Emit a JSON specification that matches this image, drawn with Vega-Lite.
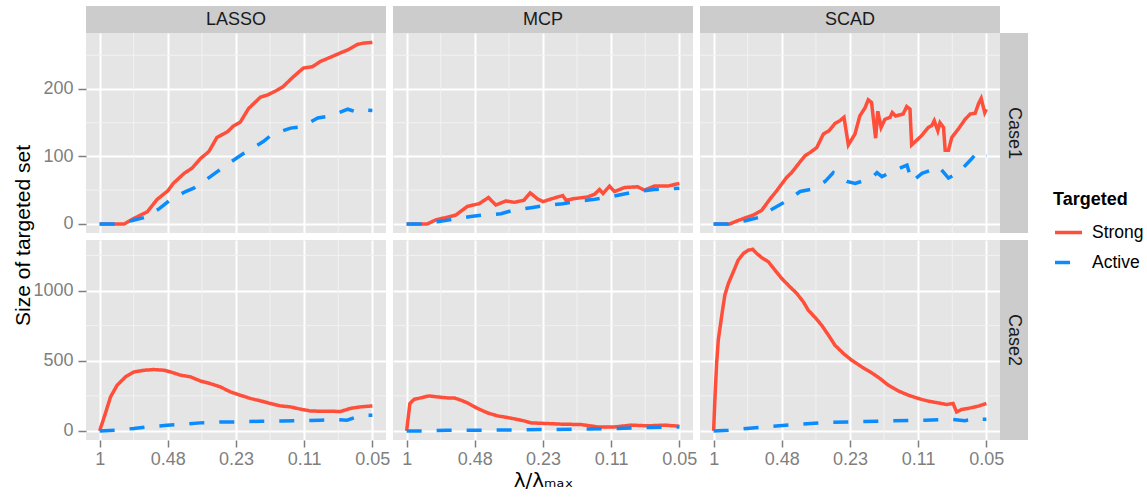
{
  "$schema": "https://vega.github.io/schema/vega-lite/v6.json",
  "autosize": {"type": "pad"},
  "padding": {"left": 12, "top": 6, "right": 5, "bottom": 5},
  "background": "#FFFFFF",
  "bounds": "flush",
  "align": "each",
  "spacing": 0,
  "columns": 6,
  "datasets": {
    "nothing": [],
    "minorx": [{"step": 12.5}, {"step": 37.5}, {"step": 62.5}, {"step": 87.5}],
    "minory1": [{"size": 50}, {"size": 150}, {"size": 250}],
    "minory2": [{"size": 250}, {"size": 750}, {"size": 1250}],
    "curves": [
      {"method": "LASSO", "case": "Case1", "targeted": "Strong", "step": 0, "size": 0},
      {"method": "LASSO", "case": "Case1", "targeted": "Strong", "step": 9, "size": 0},
      {"method": "LASSO", "case": "Case1", "targeted": "Strong", "step": 12, "size": 7},
      {"method": "LASSO", "case": "Case1", "targeted": "Strong", "step": 17.5, "size": 18},
      {"method": "LASSO", "case": "Case1", "targeted": "Strong", "step": 21, "size": 36},
      {"method": "LASSO", "case": "Case1", "targeted": "Strong", "step": 25, "size": 49},
      {"method": "LASSO", "case": "Case1", "targeted": "Strong", "step": 27, "size": 60},
      {"method": "LASSO", "case": "Case1", "targeted": "Strong", "step": 31, "size": 75},
      {"method": "LASSO", "case": "Case1", "targeted": "Strong", "step": 34, "size": 83},
      {"method": "LASSO", "case": "Case1", "targeted": "Strong", "step": 37, "size": 97},
      {"method": "LASSO", "case": "Case1", "targeted": "Strong", "step": 40, "size": 107},
      {"method": "LASSO", "case": "Case1", "targeted": "Strong", "step": 43, "size": 128},
      {"method": "LASSO", "case": "Case1", "targeted": "Strong", "step": 47, "size": 137},
      {"method": "LASSO", "case": "Case1", "targeted": "Strong", "step": 49, "size": 145},
      {"method": "LASSO", "case": "Case1", "targeted": "Strong", "step": 51.6, "size": 151},
      {"method": "LASSO", "case": "Case1", "targeted": "Strong", "step": 54.6, "size": 171},
      {"method": "LASSO", "case": "Case1", "targeted": "Strong", "step": 59, "size": 188},
      {"method": "LASSO", "case": "Case1", "targeted": "Strong", "step": 61.5, "size": 191},
      {"method": "LASSO", "case": "Case1", "targeted": "Strong", "step": 65, "size": 198},
      {"method": "LASSO", "case": "Case1", "targeted": "Strong", "step": 67.4, "size": 204},
      {"method": "LASSO", "case": "Case1", "targeted": "Strong", "step": 71, "size": 218},
      {"method": "LASSO", "case": "Case1", "targeted": "Strong", "step": 74.7, "size": 231},
      {"method": "LASSO", "case": "Case1", "targeted": "Strong", "step": 78, "size": 233},
      {"method": "LASSO", "case": "Case1", "targeted": "Strong", "step": 81, "size": 241},
      {"method": "LASSO", "case": "Case1", "targeted": "Strong", "step": 84.6, "size": 247},
      {"method": "LASSO", "case": "Case1", "targeted": "Strong", "step": 88, "size": 253},
      {"method": "LASSO", "case": "Case1", "targeted": "Strong", "step": 91, "size": 258},
      {"method": "LASSO", "case": "Case1", "targeted": "Strong", "step": 94.5, "size": 266},
      {"method": "LASSO", "case": "Case1", "targeted": "Strong", "step": 96.7, "size": 268},
      {"method": "LASSO", "case": "Case1", "targeted": "Strong", "step": 100, "size": 269},
      {"method": "LASSO", "case": "Case1", "targeted": "Active", "step": 0, "size": 0},
      {"method": "LASSO", "case": "Case1", "targeted": "Active", "step": 6, "size": 0},
      {"method": "LASSO", "case": "Case1", "targeted": "Active", "step": 12, "size": 5},
      {"method": "LASSO", "case": "Case1", "targeted": "Active", "step": 17, "size": 10},
      {"method": "LASSO", "case": "Case1", "targeted": "Active", "step": 22, "size": 23},
      {"method": "LASSO", "case": "Case1", "targeted": "Active", "step": 26, "size": 36},
      {"method": "LASSO", "case": "Case1", "targeted": "Active", "step": 31.5, "size": 48},
      {"method": "LASSO", "case": "Case1", "targeted": "Active", "step": 34.5, "size": 53},
      {"method": "LASSO", "case": "Case1", "targeted": "Active", "step": 40.6, "size": 70},
      {"method": "LASSO", "case": "Case1", "targeted": "Active", "step": 45, "size": 83},
      {"method": "LASSO", "case": "Case1", "targeted": "Active", "step": 50, "size": 97},
      {"method": "LASSO", "case": "Case1", "targeted": "Active", "step": 53, "size": 105},
      {"method": "LASSO", "case": "Case1", "targeted": "Active", "step": 60, "size": 122},
      {"method": "LASSO", "case": "Case1", "targeted": "Active", "step": 63, "size": 132},
      {"method": "LASSO", "case": "Case1", "targeted": "Active", "step": 70, "size": 142},
      {"method": "LASSO", "case": "Case1", "targeted": "Active", "step": 74, "size": 144},
      {"method": "LASSO", "case": "Case1", "targeted": "Active", "step": 80, "size": 157},
      {"method": "LASSO", "case": "Case1", "targeted": "Active", "step": 84.6, "size": 160},
      {"method": "LASSO", "case": "Case1", "targeted": "Active", "step": 91, "size": 170},
      {"method": "LASSO", "case": "Case1", "targeted": "Active", "step": 94, "size": 166},
      {"method": "LASSO", "case": "Case1", "targeted": "Active", "step": 96, "size": 169},
      {"method": "LASSO", "case": "Case1", "targeted": "Active", "step": 100, "size": 168},
      {"method": "MCP", "case": "Case1", "targeted": "Strong", "step": 0, "size": 0},
      {"method": "MCP", "case": "Case1", "targeted": "Strong", "step": 7.6, "size": 0},
      {"method": "MCP", "case": "Case1", "targeted": "Strong", "step": 10.7, "size": 6},
      {"method": "MCP", "case": "Case1", "targeted": "Strong", "step": 15, "size": 10},
      {"method": "MCP", "case": "Case1", "targeted": "Strong", "step": 18, "size": 13},
      {"method": "MCP", "case": "Case1", "targeted": "Strong", "step": 22.3, "size": 26},
      {"method": "MCP", "case": "Case1", "targeted": "Strong", "step": 26.6, "size": 30},
      {"method": "MCP", "case": "Case1", "targeted": "Strong", "step": 30, "size": 39},
      {"method": "MCP", "case": "Case1", "targeted": "Strong", "step": 32.7, "size": 28},
      {"method": "MCP", "case": "Case1", "targeted": "Strong", "step": 36.4, "size": 34},
      {"method": "MCP", "case": "Case1", "targeted": "Strong", "step": 39.5, "size": 32},
      {"method": "MCP", "case": "Case1", "targeted": "Strong", "step": 43, "size": 35},
      {"method": "MCP", "case": "Case1", "targeted": "Strong", "step": 45.3, "size": 46},
      {"method": "MCP", "case": "Case1", "targeted": "Strong", "step": 48, "size": 37},
      {"method": "MCP", "case": "Case1", "targeted": "Strong", "step": 50, "size": 33},
      {"method": "MCP", "case": "Case1", "targeted": "Strong", "step": 53, "size": 37},
      {"method": "MCP", "case": "Case1", "targeted": "Strong", "step": 57.2, "size": 42},
      {"method": "MCP", "case": "Case1", "targeted": "Strong", "step": 58.5, "size": 35},
      {"method": "MCP", "case": "Case1", "targeted": "Strong", "step": 61.5, "size": 37.5},
      {"method": "MCP", "case": "Case1", "targeted": "Strong", "step": 66.4, "size": 40},
      {"method": "MCP", "case": "Case1", "targeted": "Strong", "step": 68.9, "size": 44},
      {"method": "MCP", "case": "Case1", "targeted": "Strong", "step": 70.7, "size": 51},
      {"method": "MCP", "case": "Case1", "targeted": "Strong", "step": 72, "size": 45},
      {"method": "MCP", "case": "Case1", "targeted": "Strong", "step": 74.4, "size": 56},
      {"method": "MCP", "case": "Case1", "targeted": "Strong", "step": 76.2, "size": 48},
      {"method": "MCP", "case": "Case1", "targeted": "Strong", "step": 80, "size": 54},
      {"method": "MCP", "case": "Case1", "targeted": "Strong", "step": 84.7, "size": 55},
      {"method": "MCP", "case": "Case1", "targeted": "Strong", "step": 87.2, "size": 50},
      {"method": "MCP", "case": "Case1", "targeted": "Strong", "step": 90.8, "size": 56},
      {"method": "MCP", "case": "Case1", "targeted": "Strong", "step": 95.7, "size": 56},
      {"method": "MCP", "case": "Case1", "targeted": "Strong", "step": 100, "size": 60},
      {"method": "MCP", "case": "Case1", "targeted": "Active", "step": 0, "size": 0},
      {"method": "MCP", "case": "Case1", "targeted": "Active", "step": 5.6, "size": 0},
      {"method": "MCP", "case": "Case1", "targeted": "Active", "step": 11.8, "size": 3.5},
      {"method": "MCP", "case": "Case1", "targeted": "Active", "step": 16.7, "size": 6.5},
      {"method": "MCP", "case": "Case1", "targeted": "Active", "step": 23.5, "size": 11},
      {"method": "MCP", "case": "Case1", "targeted": "Active", "step": 27.8, "size": 13},
      {"method": "MCP", "case": "Case1", "targeted": "Active", "step": 34.6, "size": 15},
      {"method": "MCP", "case": "Case1", "targeted": "Active", "step": 38.9, "size": 20},
      {"method": "MCP", "case": "Case1", "targeted": "Active", "step": 45.6, "size": 24},
      {"method": "MCP", "case": "Case1", "targeted": "Active", "step": 50.5, "size": 27},
      {"method": "MCP", "case": "Case1", "targeted": "Active", "step": 57.2, "size": 30},
      {"method": "MCP", "case": "Case1", "targeted": "Active", "step": 61.5, "size": 33},
      {"method": "MCP", "case": "Case1", "targeted": "Active", "step": 68.2, "size": 36},
      {"method": "MCP", "case": "Case1", "targeted": "Active", "step": 73.1, "size": 39},
      {"method": "MCP", "case": "Case1", "targeted": "Active", "step": 79.3, "size": 44},
      {"method": "MCP", "case": "Case1", "targeted": "Active", "step": 84.7, "size": 48},
      {"method": "MCP", "case": "Case1", "targeted": "Active", "step": 90.8, "size": 51},
      {"method": "MCP", "case": "Case1", "targeted": "Active", "step": 95.7, "size": 52},
      {"method": "MCP", "case": "Case1", "targeted": "Active", "step": 100, "size": 53},
      {"method": "SCAD", "case": "Case1", "targeted": "Strong", "step": 0, "size": 0},
      {"method": "SCAD", "case": "Case1", "targeted": "Strong", "step": 5.9, "size": 0},
      {"method": "SCAD", "case": "Case1", "targeted": "Strong", "step": 10.9, "size": 8},
      {"method": "SCAD", "case": "Case1", "targeted": "Strong", "step": 14.5, "size": 13},
      {"method": "SCAD", "case": "Case1", "targeted": "Strong", "step": 17.6, "size": 20},
      {"method": "SCAD", "case": "Case1", "targeted": "Strong", "step": 20.7, "size": 37},
      {"method": "SCAD", "case": "Case1", "targeted": "Strong", "step": 23.1, "size": 49},
      {"method": "SCAD", "case": "Case1", "targeted": "Strong", "step": 26.8, "size": 69},
      {"method": "SCAD", "case": "Case1", "targeted": "Strong", "step": 28.6, "size": 76},
      {"method": "SCAD", "case": "Case1", "targeted": "Strong", "step": 31.1, "size": 89},
      {"method": "SCAD", "case": "Case1", "targeted": "Strong", "step": 33.5, "size": 101},
      {"method": "SCAD", "case": "Case1", "targeted": "Strong", "step": 35.4, "size": 106},
      {"method": "SCAD", "case": "Case1", "targeted": "Strong", "step": 37.8, "size": 113},
      {"method": "SCAD", "case": "Case1", "targeted": "Strong", "step": 40.2, "size": 133},
      {"method": "SCAD", "case": "Case1", "targeted": "Strong", "step": 42.3, "size": 138},
      {"method": "SCAD", "case": "Case1", "targeted": "Strong", "step": 44.5, "size": 149},
      {"method": "SCAD", "case": "Case1", "targeted": "Strong", "step": 46.3, "size": 153},
      {"method": "SCAD", "case": "Case1", "targeted": "Strong", "step": 47.8, "size": 158},
      {"method": "SCAD", "case": "Case1", "targeted": "Strong", "step": 49.4, "size": 117},
      {"method": "SCAD", "case": "Case1", "targeted": "Strong", "step": 51.8, "size": 133},
      {"method": "SCAD", "case": "Case1", "targeted": "Strong", "step": 53.6, "size": 160},
      {"method": "SCAD", "case": "Case1", "targeted": "Strong", "step": 55.5, "size": 172},
      {"method": "SCAD", "case": "Case1", "targeted": "Strong", "step": 56.7, "size": 184},
      {"method": "SCAD", "case": "Case1", "targeted": "Strong", "step": 57.9, "size": 180},
      {"method": "SCAD", "case": "Case1", "targeted": "Strong", "step": 59.4, "size": 127},
      {"method": "SCAD", "case": "Case1", "targeted": "Strong", "step": 60.2, "size": 167},
      {"method": "SCAD", "case": "Case1", "targeted": "Strong", "step": 61.4, "size": 143},
      {"method": "SCAD", "case": "Case1", "targeted": "Strong", "step": 62.8, "size": 155},
      {"method": "SCAD", "case": "Case1", "targeted": "Strong", "step": 64.7, "size": 158},
      {"method": "SCAD", "case": "Case1", "targeted": "Strong", "step": 65.5, "size": 165},
      {"method": "SCAD", "case": "Case1", "targeted": "Strong", "step": 66.7, "size": 160},
      {"method": "SCAD", "case": "Case1", "targeted": "Strong", "step": 69.5, "size": 163},
      {"method": "SCAD", "case": "Case1", "targeted": "Strong", "step": 70.8, "size": 174},
      {"method": "SCAD", "case": "Case1", "targeted": "Strong", "step": 72, "size": 170},
      {"method": "SCAD", "case": "Case1", "targeted": "Strong", "step": 72.6, "size": 117},
      {"method": "SCAD", "case": "Case1", "targeted": "Strong", "step": 76.3, "size": 131},
      {"method": "SCAD", "case": "Case1", "targeted": "Strong", "step": 78.7, "size": 143},
      {"method": "SCAD", "case": "Case1", "targeted": "Strong", "step": 80, "size": 146},
      {"method": "SCAD", "case": "Case1", "targeted": "Strong", "step": 80.9, "size": 153},
      {"method": "SCAD", "case": "Case1", "targeted": "Strong", "step": 82.2, "size": 138},
      {"method": "SCAD", "case": "Case1", "targeted": "Strong", "step": 83, "size": 150},
      {"method": "SCAD", "case": "Case1", "targeted": "Strong", "step": 84.3, "size": 143},
      {"method": "SCAD", "case": "Case1", "targeted": "Strong", "step": 84.9, "size": 109},
      {"method": "SCAD", "case": "Case1", "targeted": "Strong", "step": 86.1, "size": 109},
      {"method": "SCAD", "case": "Case1", "targeted": "Strong", "step": 87.3, "size": 128},
      {"method": "SCAD", "case": "Case1", "targeted": "Strong", "step": 89.8, "size": 141},
      {"method": "SCAD", "case": "Case1", "targeted": "Strong", "step": 92.2, "size": 155},
      {"method": "SCAD", "case": "Case1", "targeted": "Strong", "step": 94.1, "size": 163},
      {"method": "SCAD", "case": "Case1", "targeted": "Strong", "step": 95.9, "size": 164},
      {"method": "SCAD", "case": "Case1", "targeted": "Strong", "step": 97.1, "size": 178},
      {"method": "SCAD", "case": "Case1", "targeted": "Strong", "step": 98.1, "size": 186},
      {"method": "SCAD", "case": "Case1", "targeted": "Strong", "step": 99.4, "size": 165},
      {"method": "SCAD", "case": "Case1", "targeted": "Strong", "step": 100, "size": 170},
      {"method": "SCAD", "case": "Case1", "targeted": "Active", "step": 0, "size": 0},
      {"method": "SCAD", "case": "Case1", "targeted": "Active", "step": 5.4, "size": 0},
      {"method": "SCAD", "case": "Case1", "targeted": "Active", "step": 12.1, "size": 5},
      {"method": "SCAD", "case": "Case1", "targeted": "Active", "step": 17, "size": 10},
      {"method": "SCAD", "case": "Case1", "targeted": "Active", "step": 21.9, "size": 23},
      {"method": "SCAD", "case": "Case1", "targeted": "Active", "step": 26.8, "size": 34},
      {"method": "SCAD", "case": "Case1", "targeted": "Active", "step": 31.7, "size": 48},
      {"method": "SCAD", "case": "Case1", "targeted": "Active", "step": 35.4, "size": 51},
      {"method": "SCAD", "case": "Case1", "targeted": "Active", "step": 40.9, "size": 63},
      {"method": "SCAD", "case": "Case1", "targeted": "Active", "step": 43.9, "size": 76},
      {"method": "SCAD", "case": "Case1", "targeted": "Active", "step": 48.8, "size": 63},
      {"method": "SCAD", "case": "Case1", "targeted": "Active", "step": 51.9, "size": 60},
      {"method": "SCAD", "case": "Case1", "targeted": "Active", "step": 58, "size": 68},
      {"method": "SCAD", "case": "Case1", "targeted": "Active", "step": 59.9, "size": 76},
      {"method": "SCAD", "case": "Case1", "targeted": "Active", "step": 61.7, "size": 70},
      {"method": "SCAD", "case": "Case1", "targeted": "Active", "step": 66.6, "size": 80},
      {"method": "SCAD", "case": "Case1", "targeted": "Active", "step": 70.9, "size": 87},
      {"method": "SCAD", "case": "Case1", "targeted": "Active", "step": 72.7, "size": 63},
      {"method": "SCAD", "case": "Case1", "targeted": "Active", "step": 76.4, "size": 75},
      {"method": "SCAD", "case": "Case1", "targeted": "Active", "step": 80, "size": 80},
      {"method": "SCAD", "case": "Case1", "targeted": "Active", "step": 82.5, "size": 85},
      {"method": "SCAD", "case": "Case1", "targeted": "Active", "step": 86.1, "size": 68},
      {"method": "SCAD", "case": "Case1", "targeted": "Active", "step": 89.8, "size": 76},
      {"method": "SCAD", "case": "Case1", "targeted": "Active", "step": 94.7, "size": 97},
      {"method": "SCAD", "case": "Case1", "targeted": "Active", "step": 96.9, "size": 107},
      {"method": "SCAD", "case": "Case1", "targeted": "Active", "step": 98.4, "size": 102},
      {"method": "SCAD", "case": "Case1", "targeted": "Active", "step": 100, "size": 101},
      {"method": "LASSO", "case": "Case2", "targeted": "Strong", "step": 0, "size": 0},
      {"method": "LASSO", "case": "Case2", "targeted": "Strong", "step": 2.1, "size": 124},
      {"method": "LASSO", "case": "Case2", "targeted": "Strong", "step": 4, "size": 242},
      {"method": "LASSO", "case": "Case2", "targeted": "Strong", "step": 6.4, "size": 325},
      {"method": "LASSO", "case": "Case2", "targeted": "Strong", "step": 9.5, "size": 385},
      {"method": "LASSO", "case": "Case2", "targeted": "Strong", "step": 12.6, "size": 420},
      {"method": "LASSO", "case": "Case2", "targeted": "Strong", "step": 16.3, "size": 432},
      {"method": "LASSO", "case": "Case2", "targeted": "Strong", "step": 19.9, "size": 437},
      {"method": "LASSO", "case": "Case2", "targeted": "Strong", "step": 23.6, "size": 432},
      {"method": "LASSO", "case": "Case2", "targeted": "Strong", "step": 26, "size": 420},
      {"method": "LASSO", "case": "Case2", "targeted": "Strong", "step": 29.6, "size": 397},
      {"method": "LASSO", "case": "Case2", "targeted": "Strong", "step": 33.3, "size": 385},
      {"method": "LASSO", "case": "Case2", "targeted": "Strong", "step": 36.9, "size": 356},
      {"method": "LASSO", "case": "Case2", "targeted": "Strong", "step": 40.6, "size": 337},
      {"method": "LASSO", "case": "Case2", "targeted": "Strong", "step": 44.3, "size": 313},
      {"method": "LASSO", "case": "Case2", "targeted": "Strong", "step": 47.9, "size": 278},
      {"method": "LASSO", "case": "Case2", "targeted": "Strong", "step": 51.6, "size": 254},
      {"method": "LASSO", "case": "Case2", "targeted": "Strong", "step": 55.3, "size": 231},
      {"method": "LASSO", "case": "Case2", "targeted": "Strong", "step": 58.9, "size": 214},
      {"method": "LASSO", "case": "Case2", "targeted": "Strong", "step": 62.6, "size": 195},
      {"method": "LASSO", "case": "Case2", "targeted": "Strong", "step": 66.3, "size": 178},
      {"method": "LASSO", "case": "Case2", "targeted": "Strong", "step": 69.9, "size": 171},
      {"method": "LASSO", "case": "Case2", "targeted": "Strong", "step": 73.6, "size": 155},
      {"method": "LASSO", "case": "Case2", "targeted": "Strong", "step": 77.3, "size": 142},
      {"method": "LASSO", "case": "Case2", "targeted": "Strong", "step": 80.9, "size": 140},
      {"method": "LASSO", "case": "Case2", "targeted": "Strong", "step": 84.6, "size": 140},
      {"method": "LASSO", "case": "Case2", "targeted": "Strong", "step": 88.3, "size": 138},
      {"method": "LASSO", "case": "Case2", "targeted": "Strong", "step": 91.9, "size": 160},
      {"method": "LASSO", "case": "Case2", "targeted": "Strong", "step": 95.6, "size": 171},
      {"method": "LASSO", "case": "Case2", "targeted": "Strong", "step": 100, "size": 178},
      {"method": "LASSO", "case": "Case2", "targeted": "Active", "step": 0, "size": 0},
      {"method": "LASSO", "case": "Case2", "targeted": "Active", "step": 5.8, "size": 5},
      {"method": "LASSO", "case": "Case2", "targeted": "Active", "step": 12.5, "size": 17},
      {"method": "LASSO", "case": "Case2", "targeted": "Active", "step": 17.4, "size": 28},
      {"method": "LASSO", "case": "Case2", "targeted": "Active", "step": 24.7, "size": 40},
      {"method": "LASSO", "case": "Case2", "targeted": "Active", "step": 30.2, "size": 47},
      {"method": "LASSO", "case": "Case2", "targeted": "Active", "step": 36.9, "size": 57},
      {"method": "LASSO", "case": "Case2", "targeted": "Active", "step": 44.3, "size": 64},
      {"method": "LASSO", "case": "Case2", "targeted": "Active", "step": 51.6, "size": 64},
      {"method": "LASSO", "case": "Case2", "targeted": "Active", "step": 58.9, "size": 69},
      {"method": "LASSO", "case": "Case2", "targeted": "Active", "step": 66.9, "size": 71},
      {"method": "LASSO", "case": "Case2", "targeted": "Active", "step": 73.6, "size": 73},
      {"method": "LASSO", "case": "Case2", "targeted": "Active", "step": 80.9, "size": 76},
      {"method": "LASSO", "case": "Case2", "targeted": "Active", "step": 87, "size": 80},
      {"method": "LASSO", "case": "Case2", "targeted": "Active", "step": 90.7, "size": 76},
      {"method": "LASSO", "case": "Case2", "targeted": "Active", "step": 94.4, "size": 100},
      {"method": "LASSO", "case": "Case2", "targeted": "Active", "step": 98, "size": 111},
      {"method": "LASSO", "case": "Case2", "targeted": "Active", "step": 100, "size": 111},
      {"method": "MCP", "case": "Case2", "targeted": "Strong", "step": 0, "size": 0},
      {"method": "MCP", "case": "Case2", "targeted": "Strong", "step": 1.2, "size": 195},
      {"method": "MCP", "case": "Case2", "targeted": "Strong", "step": 2.7, "size": 224},
      {"method": "MCP", "case": "Case2", "targeted": "Strong", "step": 5.1, "size": 235},
      {"method": "MCP", "case": "Case2", "targeted": "Strong", "step": 8.2, "size": 249},
      {"method": "MCP", "case": "Case2", "targeted": "Strong", "step": 11.3, "size": 242},
      {"method": "MCP", "case": "Case2", "targeted": "Strong", "step": 14.9, "size": 235},
      {"method": "MCP", "case": "Case2", "targeted": "Strong", "step": 17.4, "size": 235},
      {"method": "MCP", "case": "Case2", "targeted": "Strong", "step": 19.9, "size": 219},
      {"method": "MCP", "case": "Case2", "targeted": "Strong", "step": 22.3, "size": 199},
      {"method": "MCP", "case": "Case2", "targeted": "Strong", "step": 26, "size": 160},
      {"method": "MCP", "case": "Case2", "targeted": "Strong", "step": 29.7, "size": 128},
      {"method": "MCP", "case": "Case2", "targeted": "Strong", "step": 33.3, "size": 107},
      {"method": "MCP", "case": "Case2", "targeted": "Strong", "step": 37, "size": 95},
      {"method": "MCP", "case": "Case2", "targeted": "Strong", "step": 40.7, "size": 81},
      {"method": "MCP", "case": "Case2", "targeted": "Strong", "step": 43.1, "size": 71},
      {"method": "MCP", "case": "Case2", "targeted": "Strong", "step": 45.6, "size": 57},
      {"method": "MCP", "case": "Case2", "targeted": "Strong", "step": 50.5, "size": 53},
      {"method": "MCP", "case": "Case2", "targeted": "Strong", "step": 56.6, "size": 48},
      {"method": "MCP", "case": "Case2", "targeted": "Strong", "step": 64, "size": 45},
      {"method": "MCP", "case": "Case2", "targeted": "Strong", "step": 70.1, "size": 28},
      {"method": "MCP", "case": "Case2", "targeted": "Strong", "step": 76.2, "size": 28},
      {"method": "MCP", "case": "Case2", "targeted": "Strong", "step": 82.4, "size": 41},
      {"method": "MCP", "case": "Case2", "targeted": "Strong", "step": 88.5, "size": 36},
      {"method": "MCP", "case": "Case2", "targeted": "Strong", "step": 94.6, "size": 41},
      {"method": "MCP", "case": "Case2", "targeted": "Strong", "step": 100, "size": 33},
      {"method": "MCP", "case": "Case2", "targeted": "Active", "step": 0, "size": 0},
      {"method": "MCP", "case": "Case2", "targeted": "Active", "step": 7, "size": 0},
      {"method": "MCP", "case": "Case2", "targeted": "Active", "step": 14.9, "size": 5},
      {"method": "MCP", "case": "Case2", "targeted": "Active", "step": 27.1, "size": 5},
      {"method": "MCP", "case": "Case2", "targeted": "Active", "step": 39.3, "size": 7},
      {"method": "MCP", "case": "Case2", "targeted": "Active", "step": 51.5, "size": 10},
      {"method": "MCP", "case": "Case2", "targeted": "Active", "step": 63.7, "size": 12},
      {"method": "MCP", "case": "Case2", "targeted": "Active", "step": 76, "size": 17},
      {"method": "MCP", "case": "Case2", "targeted": "Active", "step": 88.2, "size": 24},
      {"method": "MCP", "case": "Case2", "targeted": "Active", "step": 100, "size": 28},
      {"method": "SCAD", "case": "Case2", "targeted": "Strong", "step": 0, "size": 0},
      {"method": "SCAD", "case": "Case2", "targeted": "Strong", "step": 0.5, "size": 242},
      {"method": "SCAD", "case": "Case2", "targeted": "Strong", "step": 1.1, "size": 480},
      {"method": "SCAD", "case": "Case2", "targeted": "Strong", "step": 1.7, "size": 646},
      {"method": "SCAD", "case": "Case2", "targeted": "Strong", "step": 2.9, "size": 812},
      {"method": "SCAD", "case": "Case2", "targeted": "Strong", "step": 4.1, "size": 967},
      {"method": "SCAD", "case": "Case2", "targeted": "Strong", "step": 5.4, "size": 1050},
      {"method": "SCAD", "case": "Case2", "targeted": "Strong", "step": 7.2, "size": 1132},
      {"method": "SCAD", "case": "Case2", "targeted": "Strong", "step": 9, "size": 1216},
      {"method": "SCAD", "case": "Case2", "targeted": "Strong", "step": 10.9, "size": 1264},
      {"method": "SCAD", "case": "Case2", "targeted": "Strong", "step": 12.7, "size": 1287},
      {"method": "SCAD", "case": "Case2", "targeted": "Strong", "step": 14.3, "size": 1294},
      {"method": "SCAD", "case": "Case2", "targeted": "Strong", "step": 15.8, "size": 1264},
      {"method": "SCAD", "case": "Case2", "targeted": "Strong", "step": 17.6, "size": 1235},
      {"method": "SCAD", "case": "Case2", "targeted": "Strong", "step": 20.1, "size": 1204},
      {"method": "SCAD", "case": "Case2", "targeted": "Strong", "step": 22.5, "size": 1145},
      {"method": "SCAD", "case": "Case2", "targeted": "Strong", "step": 25, "size": 1085},
      {"method": "SCAD", "case": "Case2", "targeted": "Strong", "step": 28, "size": 1026},
      {"method": "SCAD", "case": "Case2", "targeted": "Strong", "step": 30.5, "size": 979},
      {"method": "SCAD", "case": "Case2", "targeted": "Strong", "step": 32.9, "size": 919},
      {"method": "SCAD", "case": "Case2", "targeted": "Strong", "step": 34.7, "size": 860},
      {"method": "SCAD", "case": "Case2", "targeted": "Strong", "step": 37.2, "size": 808},
      {"method": "SCAD", "case": "Case2", "targeted": "Strong", "step": 39.6, "size": 753},
      {"method": "SCAD", "case": "Case2", "targeted": "Strong", "step": 42.1, "size": 682},
      {"method": "SCAD", "case": "Case2", "targeted": "Strong", "step": 44.5, "size": 610},
      {"method": "SCAD", "case": "Case2", "targeted": "Strong", "step": 47.6, "size": 551},
      {"method": "SCAD", "case": "Case2", "targeted": "Strong", "step": 50.6, "size": 504},
      {"method": "SCAD", "case": "Case2", "targeted": "Strong", "step": 54.3, "size": 456},
      {"method": "SCAD", "case": "Case2", "targeted": "Strong", "step": 58, "size": 413},
      {"method": "SCAD", "case": "Case2", "targeted": "Strong", "step": 61, "size": 373},
      {"method": "SCAD", "case": "Case2", "targeted": "Strong", "step": 64, "size": 326},
      {"method": "SCAD", "case": "Case2", "targeted": "Strong", "step": 67.7, "size": 285},
      {"method": "SCAD", "case": "Case2", "targeted": "Strong", "step": 71.4, "size": 254},
      {"method": "SCAD", "case": "Case2", "targeted": "Strong", "step": 75, "size": 231},
      {"method": "SCAD", "case": "Case2", "targeted": "Strong", "step": 78.7, "size": 212},
      {"method": "SCAD", "case": "Case2", "targeted": "Strong", "step": 82.4, "size": 199},
      {"method": "SCAD", "case": "Case2", "targeted": "Strong", "step": 85.4, "size": 188},
      {"method": "SCAD", "case": "Case2", "targeted": "Strong", "step": 87.8, "size": 195},
      {"method": "SCAD", "case": "Case2", "targeted": "Strong", "step": 89.1, "size": 135},
      {"method": "SCAD", "case": "Case2", "targeted": "Strong", "step": 90.9, "size": 152},
      {"method": "SCAD", "case": "Case2", "targeted": "Strong", "step": 93.3, "size": 160},
      {"method": "SCAD", "case": "Case2", "targeted": "Strong", "step": 97, "size": 176},
      {"method": "SCAD", "case": "Case2", "targeted": "Strong", "step": 100, "size": 195},
      {"method": "SCAD", "case": "Case2", "targeted": "Active", "step": 0, "size": 0},
      {"method": "SCAD", "case": "Case2", "targeted": "Active", "step": 5.4, "size": 5},
      {"method": "SCAD", "case": "Case2", "targeted": "Active", "step": 16.4, "size": 24},
      {"method": "SCAD", "case": "Case2", "targeted": "Active", "step": 28.6, "size": 43},
      {"method": "SCAD", "case": "Case2", "targeted": "Active", "step": 40.8, "size": 59},
      {"method": "SCAD", "case": "Case2", "targeted": "Active", "step": 53, "size": 66},
      {"method": "SCAD", "case": "Case2", "targeted": "Active", "step": 65.2, "size": 71},
      {"method": "SCAD", "case": "Case2", "targeted": "Active", "step": 77.4, "size": 76},
      {"method": "SCAD", "case": "Case2", "targeted": "Active", "step": 87.2, "size": 83},
      {"method": "SCAD", "case": "Case2", "targeted": "Active", "step": 92.1, "size": 73},
      {"method": "SCAD", "case": "Case2", "targeted": "Active", "step": 97.6, "size": 90},
      {"method": "SCAD", "case": "Case2", "targeted": "Active", "step": 98.2, "size": 83},
      {"method": "SCAD", "case": "Case2", "targeted": "Active", "step": 100, "size": 83}
    ]
  },
  "concat": [
    {"width": 300, "height": 27, "view": {"fill": "#CCCCCC", "stroke": null}, "data": {"values": [{"label": "LASSO"}]}, "mark": {"type": "text", "font": "Liberation Sans", "fontSize": 18, "color": "#1A1A1A", "baseline": "middle", "align": "center"}, "encoding": {"text": {"field": "label"}}},
    {"width": 6.5, "height": 27, "data": {"name": "nothing"}, "mark": {"type": "point", "opacity": 0}},
    {"width": 300, "height": 27, "view": {"fill": "#CCCCCC", "stroke": null}, "data": {"values": [{"label": "MCP"}]}, "mark": {"type": "text", "font": "Liberation Sans", "fontSize": 18, "color": "#1A1A1A", "baseline": "middle", "align": "center"}, "encoding": {"text": {"field": "label"}}},
    {"width": 6.5, "height": 27, "data": {"name": "nothing"}, "mark": {"type": "point", "opacity": 0}},
    {"width": 300, "height": 27, "view": {"fill": "#CCCCCC", "stroke": null}, "data": {"values": [{"label": "SCAD"}]}, "mark": {"type": "text", "font": "Liberation Sans", "fontSize": 18, "color": "#1A1A1A", "baseline": "middle", "align": "center"}, "encoding": {"text": {"field": "label"}}},
    {"width": 28, "height": 27, "data": {"name": "nothing"}, "mark": {"type": "point", "opacity": 0}},

    {
      "width": 300, "height": 200, "view": {"fill": "#E5E5E5", "stroke": null},
      "layer": [
        {"data": {"name": "minorx"}, "mark": {"type": "rule", "color": "#F2F2F2", "strokeWidth": 1}, "encoding": {"x": {"field": "step", "type": "quantitative", "scale": {"domain": [-5, 105], "nice": false, "zero": false}, "axis": {"values": [0, 25, 50, 75, 100], "labels": false, "ticks": false, "title": null}}}},
        {"data": {"name": "minory1"}, "mark": {"type": "rule", "color": "#F2F2F2", "strokeWidth": 1}, "encoding": {"y": {"field": "size", "type": "quantitative", "scale": {"domain": [-13.5, 283], "nice": false, "zero": false}, "axis": {"values": [0, 100, 200], "title": "Size of targeted set", "titleX": -53, "titleY": 202, "titleAngle": -90, "titleAlign": "center", "titleBaseline": "bottom", "titleFont": "Liberation Sans", "titleFontSize": 21, "titleFontWeight": "normal", "titleColor": "#000000"}}}},
        {"data": {"name": "curves"}, "transform": [{"filter": "datum.method == 'LASSO' && datum.case == 'Case1' && datum.targeted == 'Strong'"}], "mark": {"type": "line", "strokeWidth": 3.5},
         "encoding": {
           "x": {"field": "step", "type": "quantitative", "scale": {"domain": [-5, 105], "nice": false, "zero": false}, "axis": {"values": [0, 25, 50, 75, 100], "labels": false, "ticks": false, "title": null}},
           "y": {"field": "size", "type": "quantitative", "scale": {"domain": [-13.5, 283], "nice": false, "zero": false}, "axis": {"values": [0, 100, 200], "title": "Size of targeted set", "titleX": -53, "titleY": 202, "titleAngle": -90, "titleAlign": "center", "titleBaseline": "bottom", "titleFont": "Liberation Sans", "titleFontSize": 21, "titleFontWeight": "normal", "titleColor": "#000000"}},
           "color": {"field": "targeted", "type": "nominal", "scale": {"domain": ["Strong", "Active"], "range": ["#FF4E3A", "#0A8CFF"]}, "legend": {"title": "Targeted", "orient": "none", "legendX": 967, "legendY": 185}},
           "strokeDash": {"field": "targeted", "type": "nominal", "scale": {"domain": ["Strong", "Active"], "range": [[1, 0], [15, 15]]}, "legend": {"title": "Targeted", "orient": "none", "legendX": 967, "legendY": 185}}
         }},
        {"data": {"name": "curves"}, "transform": [{"filter": "datum.method == 'LASSO' && datum.case == 'Case1' && datum.targeted == 'Active'"}], "mark": {"type": "line", "strokeWidth": 3.5},
         "encoding": {
           "x": {"field": "step", "type": "quantitative", "scale": {"domain": [-5, 105], "nice": false, "zero": false}, "axis": {"values": [0, 25, 50, 75, 100], "labels": false, "ticks": false, "title": null}},
           "y": {"field": "size", "type": "quantitative", "scale": {"domain": [-13.5, 283], "nice": false, "zero": false}, "axis": {"values": [0, 100, 200], "title": "Size of targeted set", "titleX": -53, "titleY": 202, "titleAngle": -90, "titleAlign": "center", "titleBaseline": "bottom", "titleFont": "Liberation Sans", "titleFontSize": 21, "titleFontWeight": "normal", "titleColor": "#000000"}},
           "color": {"field": "targeted", "type": "nominal", "scale": {"domain": ["Strong", "Active"], "range": ["#FF4E3A", "#0A8CFF"]}, "legend": {"title": "Targeted", "orient": "none", "legendX": 967, "legendY": 185}},
           "strokeDash": {"field": "targeted", "type": "nominal", "scale": {"domain": ["Strong", "Active"], "range": [[1, 0], [15, 15]]}, "legend": {"title": "Targeted", "orient": "none", "legendX": 967, "legendY": 185}}
         }}
      ]
    },
    {"width": 6.5, "height": 200, "data": {"name": "nothing"}, "mark": {"type": "point", "opacity": 0}},
    {
      "width": 300, "height": 200, "view": {"fill": "#E5E5E5", "stroke": null},
      "layer": [
        {"data": {"name": "minorx"}, "mark": {"type": "rule", "color": "#F2F2F2", "strokeWidth": 1}, "encoding": {"x": {"field": "step", "type": "quantitative", "scale": {"domain": [-5, 105], "nice": false, "zero": false}, "axis": {"values": [0, 25, 50, 75, 100], "labels": false, "ticks": false, "title": null}}}},
        {"data": {"name": "minory1"}, "mark": {"type": "rule", "color": "#F2F2F2", "strokeWidth": 1}, "encoding": {"y": {"field": "size", "type": "quantitative", "scale": {"domain": [-13.5, 283], "nice": false, "zero": false}, "axis": {"values": [0, 100, 200], "labels": false, "ticks": false, "title": null}}}},
        {"data": {"name": "curves"}, "transform": [{"filter": "datum.method == 'MCP' && datum.case == 'Case1' && datum.targeted == 'Strong'"}], "mark": {"type": "line", "strokeWidth": 3.5},
         "encoding": {
           "x": {"field": "step", "type": "quantitative", "scale": {"domain": [-5, 105], "nice": false, "zero": false}, "axis": {"values": [0, 25, 50, 75, 100], "labels": false, "ticks": false, "title": null}},
           "y": {"field": "size", "type": "quantitative", "scale": {"domain": [-13.5, 283], "nice": false, "zero": false}, "axis": {"values": [0, 100, 200], "labels": false, "ticks": false, "title": null}},
           "color": {"field": "targeted", "type": "nominal", "scale": {"domain": ["Strong", "Active"], "range": ["#FF4E3A", "#0A8CFF"]}, "legend": {"title": "Targeted", "orient": "none", "legendX": 967, "legendY": 185}},
           "strokeDash": {"field": "targeted", "type": "nominal", "scale": {"domain": ["Strong", "Active"], "range": [[1, 0], [15, 15]]}, "legend": {"title": "Targeted", "orient": "none", "legendX": 967, "legendY": 185}}
         }},
        {"data": {"name": "curves"}, "transform": [{"filter": "datum.method == 'MCP' && datum.case == 'Case1' && datum.targeted == 'Active'"}], "mark": {"type": "line", "strokeWidth": 3.5},
         "encoding": {
           "x": {"field": "step", "type": "quantitative", "scale": {"domain": [-5, 105], "nice": false, "zero": false}, "axis": {"values": [0, 25, 50, 75, 100], "labels": false, "ticks": false, "title": null}},
           "y": {"field": "size", "type": "quantitative", "scale": {"domain": [-13.5, 283], "nice": false, "zero": false}, "axis": {"values": [0, 100, 200], "labels": false, "ticks": false, "title": null}},
           "color": {"field": "targeted", "type": "nominal", "scale": {"domain": ["Strong", "Active"], "range": ["#FF4E3A", "#0A8CFF"]}, "legend": {"title": "Targeted", "orient": "none", "legendX": 967, "legendY": 185}},
           "strokeDash": {"field": "targeted", "type": "nominal", "scale": {"domain": ["Strong", "Active"], "range": [[1, 0], [15, 15]]}, "legend": {"title": "Targeted", "orient": "none", "legendX": 967, "legendY": 185}}
         }}
      ]
    },
    {"width": 6.5, "height": 200, "data": {"name": "nothing"}, "mark": {"type": "point", "opacity": 0}},
    {
      "width": 300, "height": 200, "view": {"fill": "#E5E5E5", "stroke": null},
      "layer": [
        {"data": {"name": "minorx"}, "mark": {"type": "rule", "color": "#F2F2F2", "strokeWidth": 1}, "encoding": {"x": {"field": "step", "type": "quantitative", "scale": {"domain": [-5, 105], "nice": false, "zero": false}, "axis": {"values": [0, 25, 50, 75, 100], "labels": false, "ticks": false, "title": null}}}},
        {"data": {"name": "minory1"}, "mark": {"type": "rule", "color": "#F2F2F2", "strokeWidth": 1}, "encoding": {"y": {"field": "size", "type": "quantitative", "scale": {"domain": [-13.5, 283], "nice": false, "zero": false}, "axis": {"values": [0, 100, 200], "labels": false, "ticks": false, "title": null}}}},
        {"data": {"name": "curves"}, "transform": [{"filter": "datum.method == 'SCAD' && datum.case == 'Case1' && datum.targeted == 'Strong'"}], "mark": {"type": "line", "strokeWidth": 3.5},
         "encoding": {
           "x": {"field": "step", "type": "quantitative", "scale": {"domain": [-5, 105], "nice": false, "zero": false}, "axis": {"values": [0, 25, 50, 75, 100], "labels": false, "ticks": false, "title": null}},
           "y": {"field": "size", "type": "quantitative", "scale": {"domain": [-13.5, 283], "nice": false, "zero": false}, "axis": {"values": [0, 100, 200], "labels": false, "ticks": false, "title": null}},
           "color": {"field": "targeted", "type": "nominal", "scale": {"domain": ["Strong", "Active"], "range": ["#FF4E3A", "#0A8CFF"]}, "legend": {"title": "Targeted", "orient": "none", "legendX": 967, "legendY": 185}},
           "strokeDash": {"field": "targeted", "type": "nominal", "scale": {"domain": ["Strong", "Active"], "range": [[1, 0], [15, 15]]}, "legend": {"title": "Targeted", "orient": "none", "legendX": 967, "legendY": 185}}
         }},
        {"data": {"name": "curves"}, "transform": [{"filter": "datum.method == 'SCAD' && datum.case == 'Case1' && datum.targeted == 'Active'"}], "mark": {"type": "line", "strokeWidth": 3.5},
         "encoding": {
           "x": {"field": "step", "type": "quantitative", "scale": {"domain": [-5, 105], "nice": false, "zero": false}, "axis": {"values": [0, 25, 50, 75, 100], "labels": false, "ticks": false, "title": null}},
           "y": {"field": "size", "type": "quantitative", "scale": {"domain": [-13.5, 283], "nice": false, "zero": false}, "axis": {"values": [0, 100, 200], "labels": false, "ticks": false, "title": null}},
           "color": {"field": "targeted", "type": "nominal", "scale": {"domain": ["Strong", "Active"], "range": ["#FF4E3A", "#0A8CFF"]}, "legend": {"title": "Targeted", "orient": "none", "legendX": 967, "legendY": 185}},
           "strokeDash": {"field": "targeted", "type": "nominal", "scale": {"domain": ["Strong", "Active"], "range": [[1, 0], [15, 15]]}, "legend": {"title": "Targeted", "orient": "none", "legendX": 967, "legendY": 185}}
         }}
      ]
    },
    {"width": 28, "height": 200, "view": {"fill": "#CCCCCC", "stroke": null}, "data": {"values": [{"label": "Case1"}]}, "mark": {"type": "text", "font": "Liberation Sans", "fontSize": 18, "color": "#1A1A1A", "angle": 90, "baseline": "middle", "align": "center"}, "encoding": {"text": {"field": "label"}}},

    {"width": 300, "height": 6.7, "data": {"name": "nothing"}, "mark": {"type": "point", "opacity": 0}},
    {"width": 6.5, "height": 6.7, "data": {"name": "nothing"}, "mark": {"type": "point", "opacity": 0}},
    {"width": 300, "height": 6.7, "data": {"name": "nothing"}, "mark": {"type": "point", "opacity": 0}},
    {"width": 6.5, "height": 6.7, "data": {"name": "nothing"}, "mark": {"type": "point", "opacity": 0}},
    {"width": 300, "height": 6.7, "data": {"name": "nothing"}, "mark": {"type": "point", "opacity": 0}},
    {"width": 28, "height": 6.7, "data": {"name": "nothing"}, "mark": {"type": "point", "opacity": 0}},

    {
      "width": 300, "height": 200, "view": {"fill": "#E5E5E5", "stroke": null},
      "layer": [
        {"data": {"name": "minorx"}, "mark": {"type": "rule", "color": "#F2F2F2", "strokeWidth": 1}, "encoding": {"x": {"field": "step", "type": "quantitative", "scale": {"domain": [-5, 105], "nice": false, "zero": false}, "axis": {"values": [0, 25, 50, 75, 100], "labelExpr": "datum.value == 0 ? '1' : datum.value == 25 ? '0.48' : datum.value == 50 ? '0.23' : datum.value == 75 ? '0.11' : '0.05'", "title": null}}}},
        {"data": {"name": "minory2"}, "mark": {"type": "rule", "color": "#F2F2F2", "strokeWidth": 1}, "encoding": {"y": {"field": "size", "type": "quantitative", "scale": {"domain": [-65, 1360], "nice": false, "zero": false}, "axis": {"values": [0, 500, 1000], "format": "d", "title": null}}}},
        {"data": {"name": "curves"}, "transform": [{"filter": "datum.method == 'LASSO' && datum.case == 'Case2' && datum.targeted == 'Strong'"}], "mark": {"type": "line", "strokeWidth": 3.5},
         "encoding": {
           "x": {"field": "step", "type": "quantitative", "scale": {"domain": [-5, 105], "nice": false, "zero": false}, "axis": {"values": [0, 25, 50, 75, 100], "labelExpr": "datum.value == 0 ? '1' : datum.value == 25 ? '0.48' : datum.value == 50 ? '0.23' : datum.value == 75 ? '0.11' : '0.05'", "title": null}},
           "y": {"field": "size", "type": "quantitative", "scale": {"domain": [-65, 1360], "nice": false, "zero": false}, "axis": {"values": [0, 500, 1000], "format": "d", "title": null}},
           "color": {"field": "targeted", "type": "nominal", "scale": {"domain": ["Strong", "Active"], "range": ["#FF4E3A", "#0A8CFF"]}, "legend": {"title": "Targeted", "orient": "none", "legendX": 967, "legendY": 185}},
           "strokeDash": {"field": "targeted", "type": "nominal", "scale": {"domain": ["Strong", "Active"], "range": [[1, 0], [15, 15]]}, "legend": {"title": "Targeted", "orient": "none", "legendX": 967, "legendY": 185}}
         }},
        {"data": {"name": "curves"}, "transform": [{"filter": "datum.method == 'LASSO' && datum.case == 'Case2' && datum.targeted == 'Active'"}], "mark": {"type": "line", "strokeWidth": 3.5},
         "encoding": {
           "x": {"field": "step", "type": "quantitative", "scale": {"domain": [-5, 105], "nice": false, "zero": false}, "axis": {"values": [0, 25, 50, 75, 100], "labelExpr": "datum.value == 0 ? '1' : datum.value == 25 ? '0.48' : datum.value == 50 ? '0.23' : datum.value == 75 ? '0.11' : '0.05'", "title": null}},
           "y": {"field": "size", "type": "quantitative", "scale": {"domain": [-65, 1360], "nice": false, "zero": false}, "axis": {"values": [0, 500, 1000], "format": "d", "title": null}},
           "color": {"field": "targeted", "type": "nominal", "scale": {"domain": ["Strong", "Active"], "range": ["#FF4E3A", "#0A8CFF"]}, "legend": {"title": "Targeted", "orient": "none", "legendX": 967, "legendY": 185}},
           "strokeDash": {"field": "targeted", "type": "nominal", "scale": {"domain": ["Strong", "Active"], "range": [[1, 0], [15, 15]]}, "legend": {"title": "Targeted", "orient": "none", "legendX": 967, "legendY": 185}}
         }}
      ]
    },
    {"width": 6.5, "height": 200, "data": {"name": "nothing"}, "mark": {"type": "point", "opacity": 0}},
    {
      "width": 300, "height": 200, "view": {"fill": "#E5E5E5", "stroke": null},
      "layer": [
        {"data": {"name": "minorx"}, "mark": {"type": "rule", "color": "#F2F2F2", "strokeWidth": 1}, "encoding": {"x": {"field": "step", "type": "quantitative", "scale": {"domain": [-5, 105], "nice": false, "zero": false}, "axis": {"values": [0, 25, 50, 75, 100], "labelExpr": "datum.value == 0 ? '1' : datum.value == 25 ? '0.48' : datum.value == 50 ? '0.23' : datum.value == 75 ? '0.11' : '0.05'", "title": "λ/λₘₐₓ", "titleFont": "DejaVu Sans", "titleFontSize": 20, "titleFontWeight": "normal", "titleColor": "#000000", "titlePadding": 2}}}},
        {"data": {"name": "minory2"}, "mark": {"type": "rule", "color": "#F2F2F2", "strokeWidth": 1}, "encoding": {"y": {"field": "size", "type": "quantitative", "scale": {"domain": [-65, 1360], "nice": false, "zero": false}, "axis": {"values": [0, 500, 1000], "labels": false, "ticks": false, "title": null}}}},
        {"data": {"name": "curves"}, "transform": [{"filter": "datum.method == 'MCP' && datum.case == 'Case2' && datum.targeted == 'Strong'"}], "mark": {"type": "line", "strokeWidth": 3.5},
         "encoding": {
           "x": {"field": "step", "type": "quantitative", "scale": {"domain": [-5, 105], "nice": false, "zero": false}, "axis": {"values": [0, 25, 50, 75, 100], "labelExpr": "datum.value == 0 ? '1' : datum.value == 25 ? '0.48' : datum.value == 50 ? '0.23' : datum.value == 75 ? '0.11' : '0.05'", "title": "λ/λₘₐₓ", "titleFont": "DejaVu Sans", "titleFontSize": 20, "titleFontWeight": "normal", "titleColor": "#000000", "titlePadding": 2}},
           "y": {"field": "size", "type": "quantitative", "scale": {"domain": [-65, 1360], "nice": false, "zero": false}, "axis": {"values": [0, 500, 1000], "labels": false, "ticks": false, "title": null}},
           "color": {"field": "targeted", "type": "nominal", "scale": {"domain": ["Strong", "Active"], "range": ["#FF4E3A", "#0A8CFF"]}, "legend": {"title": "Targeted", "orient": "none", "legendX": 967, "legendY": 185}},
           "strokeDash": {"field": "targeted", "type": "nominal", "scale": {"domain": ["Strong", "Active"], "range": [[1, 0], [15, 15]]}, "legend": {"title": "Targeted", "orient": "none", "legendX": 967, "legendY": 185}}
         }},
        {"data": {"name": "curves"}, "transform": [{"filter": "datum.method == 'MCP' && datum.case == 'Case2' && datum.targeted == 'Active'"}], "mark": {"type": "line", "strokeWidth": 3.5},
         "encoding": {
           "x": {"field": "step", "type": "quantitative", "scale": {"domain": [-5, 105], "nice": false, "zero": false}, "axis": {"values": [0, 25, 50, 75, 100], "labelExpr": "datum.value == 0 ? '1' : datum.value == 25 ? '0.48' : datum.value == 50 ? '0.23' : datum.value == 75 ? '0.11' : '0.05'", "title": "λ/λₘₐₓ", "titleFont": "DejaVu Sans", "titleFontSize": 20, "titleFontWeight": "normal", "titleColor": "#000000", "titlePadding": 2}},
           "y": {"field": "size", "type": "quantitative", "scale": {"domain": [-65, 1360], "nice": false, "zero": false}, "axis": {"values": [0, 500, 1000], "labels": false, "ticks": false, "title": null}},
           "color": {"field": "targeted", "type": "nominal", "scale": {"domain": ["Strong", "Active"], "range": ["#FF4E3A", "#0A8CFF"]}, "legend": {"title": "Targeted", "orient": "none", "legendX": 967, "legendY": 185}},
           "strokeDash": {"field": "targeted", "type": "nominal", "scale": {"domain": ["Strong", "Active"], "range": [[1, 0], [15, 15]]}, "legend": {"title": "Targeted", "orient": "none", "legendX": 967, "legendY": 185}}
         }}
      ]
    },
    {"width": 6.5, "height": 200, "data": {"name": "nothing"}, "mark": {"type": "point", "opacity": 0}},
    {
      "width": 300, "height": 200, "view": {"fill": "#E5E5E5", "stroke": null},
      "layer": [
        {"data": {"name": "minorx"}, "mark": {"type": "rule", "color": "#F2F2F2", "strokeWidth": 1}, "encoding": {"x": {"field": "step", "type": "quantitative", "scale": {"domain": [-5, 105], "nice": false, "zero": false}, "axis": {"values": [0, 25, 50, 75, 100], "labelExpr": "datum.value == 0 ? '1' : datum.value == 25 ? '0.48' : datum.value == 50 ? '0.23' : datum.value == 75 ? '0.11' : '0.05'", "title": null}}}},
        {"data": {"name": "minory2"}, "mark": {"type": "rule", "color": "#F2F2F2", "strokeWidth": 1}, "encoding": {"y": {"field": "size", "type": "quantitative", "scale": {"domain": [-65, 1360], "nice": false, "zero": false}, "axis": {"values": [0, 500, 1000], "labels": false, "ticks": false, "title": null}}}},
        {"data": {"name": "curves"}, "transform": [{"filter": "datum.method == 'SCAD' && datum.case == 'Case2' && datum.targeted == 'Strong'"}], "mark": {"type": "line", "strokeWidth": 3.5},
         "encoding": {
           "x": {"field": "step", "type": "quantitative", "scale": {"domain": [-5, 105], "nice": false, "zero": false}, "axis": {"values": [0, 25, 50, 75, 100], "labelExpr": "datum.value == 0 ? '1' : datum.value == 25 ? '0.48' : datum.value == 50 ? '0.23' : datum.value == 75 ? '0.11' : '0.05'", "title": null}},
           "y": {"field": "size", "type": "quantitative", "scale": {"domain": [-65, 1360], "nice": false, "zero": false}, "axis": {"values": [0, 500, 1000], "labels": false, "ticks": false, "title": null}},
           "color": {"field": "targeted", "type": "nominal", "scale": {"domain": ["Strong", "Active"], "range": ["#FF4E3A", "#0A8CFF"]}, "legend": {"title": "Targeted", "orient": "none", "legendX": 967, "legendY": 185}},
           "strokeDash": {"field": "targeted", "type": "nominal", "scale": {"domain": ["Strong", "Active"], "range": [[1, 0], [15, 15]]}, "legend": {"title": "Targeted", "orient": "none", "legendX": 967, "legendY": 185}}
         }},
        {"data": {"name": "curves"}, "transform": [{"filter": "datum.method == 'SCAD' && datum.case == 'Case2' && datum.targeted == 'Active'"}], "mark": {"type": "line", "strokeWidth": 3.5},
         "encoding": {
           "x": {"field": "step", "type": "quantitative", "scale": {"domain": [-5, 105], "nice": false, "zero": false}, "axis": {"values": [0, 25, 50, 75, 100], "labelExpr": "datum.value == 0 ? '1' : datum.value == 25 ? '0.48' : datum.value == 50 ? '0.23' : datum.value == 75 ? '0.11' : '0.05'", "title": null}},
           "y": {"field": "size", "type": "quantitative", "scale": {"domain": [-65, 1360], "nice": false, "zero": false}, "axis": {"values": [0, 500, 1000], "labels": false, "ticks": false, "title": null}},
           "color": {"field": "targeted", "type": "nominal", "scale": {"domain": ["Strong", "Active"], "range": ["#FF4E3A", "#0A8CFF"]}, "legend": {"title": "Targeted", "orient": "none", "legendX": 967, "legendY": 185}},
           "strokeDash": {"field": "targeted", "type": "nominal", "scale": {"domain": ["Strong", "Active"], "range": [[1, 0], [15, 15]]}, "legend": {"title": "Targeted", "orient": "none", "legendX": 967, "legendY": 185}}
         }}
      ]
    },
    {"width": 28, "height": 200, "view": {"fill": "#CCCCCC", "stroke": null}, "data": {"values": [{"label": "Case2"}]}, "mark": {"type": "text", "font": "Liberation Sans", "fontSize": 18, "color": "#1A1A1A", "angle": 90, "baseline": "middle", "align": "center"}, "encoding": {"text": {"field": "label"}}}
  ],
  "config": {
    "view": {"stroke": null},
    "font": "Liberation Sans",
    "axis": {"domain": false, "grid": true, "gridColor": "#FFFFFF", "gridWidth": 2, "labelColor": "#7F7F7F", "labelFont": "Liberation Sans", "labelFontSize": 18, "tickColor": "#7F7F7F", "tickWidth": 1.5, "labelFlush": false, "labelOverlap": false},
    "axisX": {"tickSize": 7, "labelPadding": 3},
    "axisY": {"tickSize": 8, "labelPadding": 5},
    "legend": {"symbolType": "stroke", "symbolSize": 729, "symbolStrokeWidth": 3.5, "titleFont": "Liberation Sans", "titleFontSize": 18, "titleFontWeight": "bold", "titleColor": "#000000", "labelFont": "Liberation Sans", "labelFontSize": 17.5, "labelColor": "#000000", "rowPadding": 6, "titlePadding": 8, "labelOffset": 8}
  }
}
